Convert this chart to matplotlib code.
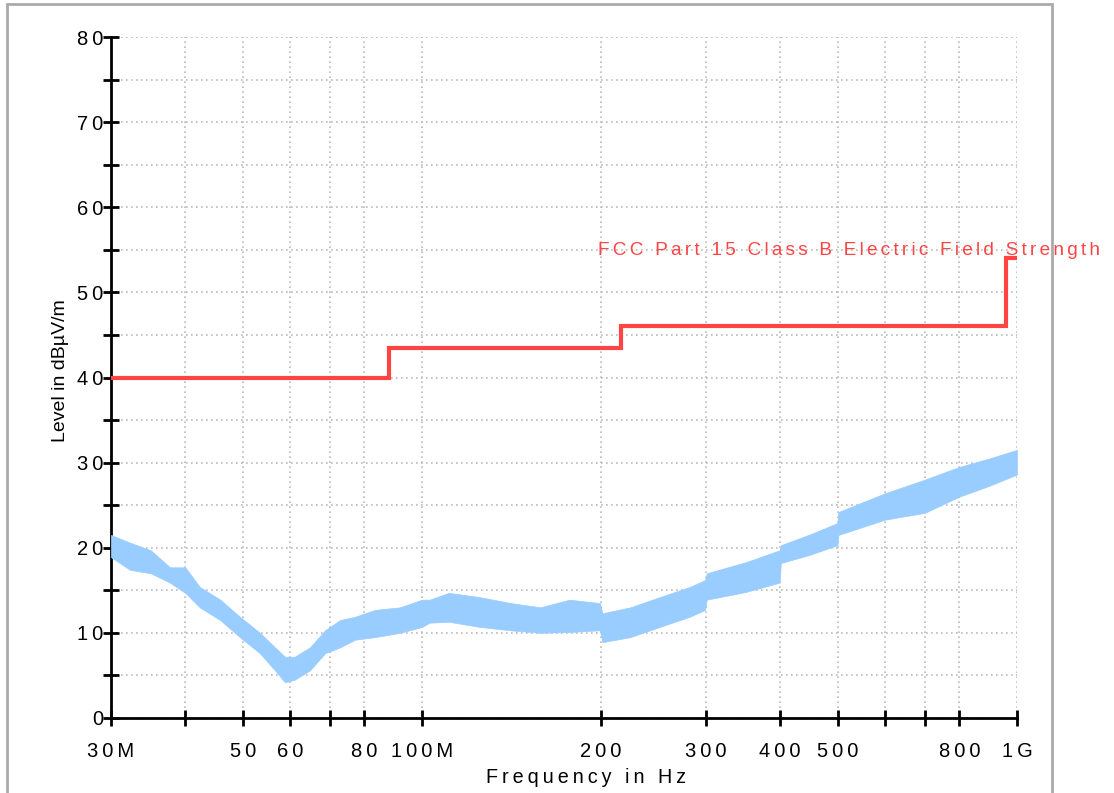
import matplotlib
matplotlib.use("Agg")
import matplotlib.pyplot as plt
from matplotlib.patches import Rectangle
from matplotlib.ticker import FixedLocator

plt.rcParams['font.family'] = ['Liberation Sans', 'DejaVu Sans']

# measured trace (MHz, dBuV/m): lower / upper edge of the noise band
freq = [30, 32.3, 35, 37.7, 40, 42.3, 45.8, 49.4, 53.4, 56.6, 58.8, 61.1, 64.8, 68.7,
        72.8, 77.2, 83.4, 91.8, 100, 103, 111, 125, 141, 158, 177, 199, 201, 224, 251,
        282, 299, 301, 350, 399, 401, 450, 499, 501, 600, 700, 800, 900, 1000]
lower = [18.9, 17.4, 17.0, 15.9, 14.7, 13.0, 11.5, 9.5, 7.6, 5.6, 4.2, 4.5, 5.6, 7.6,
         8.3, 9.2, 9.5, 10.0, 10.7, 11.2, 11.3, 10.7, 10.3, 10.0, 10.1, 10.3, 8.9, 9.5,
         10.7, 11.9, 12.7, 13.9, 14.8, 15.9, 18.2, 19.2, 20.3, 21.5, 23.3, 24.1, 26.0,
         27.3, 28.6]
upper = [21.5, 20.6, 19.7, 17.7, 17.7, 15.4, 13.9, 11.9, 10.0, 8.3, 7.2, 7.2, 8.3, 10.3,
         11.5, 11.9, 12.7, 13.0, 13.9, 13.9, 14.7, 14.2, 13.5, 13.0, 13.9, 13.5, 12.3, 13.0,
         14.2, 15.4, 16.2, 17.0, 18.3, 19.7, 20.3, 21.6, 22.9, 24.2, 26.4, 28.0, 29.5,
         30.5, 31.5]

# FCC Part 15 Class B limit (MHz, dBuV/m)
limit_f = [30, 88, 88, 216, 216, 960, 960, 1000]
limit_v = [40, 40, 43.5, 43.5, 46, 46, 54, 54]

major_x = [30, 40, 50, 60, 70, 80, 100, 200, 300, 400, 500, 600, 700, 800, 1000]
x_labels = {30: "30M", 50: "50", 60: "60", 80: "80", 100: "100M", 200: "200",
            300: "300", 400: "400", 500: "500", 800: "800", 1000: "1G"}


def spaced(s, sep="\u2009"):
    return sep.join(s)


fig = plt.figure(figsize=(11.14, 7.93), dpi=100)
ax = fig.add_axes([0.0996, 0.0946, 0.8133, 0.8587])

ax.fill_between(freq, lower, upper, color="#99ccff", lw=0.5, edgecolor="#99ccff", zorder=3)
ax.plot(limit_f, limit_v, color="#ff4444", lw=3, zorder=4, solid_joinstyle="miter")

ax.set_xscale("log")
ax.set_xlim(30, 1000)
ax.set_ylim(0, 80)

ax.xaxis.set_major_locator(FixedLocator(major_x))
ax.xaxis.set_minor_locator(FixedLocator([]))
ax.set_xticklabels([spaced(x_labels.get(v, "")) for v in major_x])
ax.set_yticks(range(0, 81, 5))
ax.set_yticklabels([spaced(str(v)) if v % 10 == 0 else "" for v in range(0, 81, 5)])

ax.tick_params(axis="both", direction="inout", length=11, width=2, labelsize=14.5,
               colors="black")
ax.tick_params(axis="x", pad=12)
ax.tick_params(axis="y", pad=0)

for s in ["top", "right"]:
    ax.spines[s].set_visible(False)
for s in ["left", "bottom"]:
    ax.spines[s].set_linewidth(2)

ax.grid(True, which="major", color="#bbbbbb", linestyle=(0, (1, 2)), lw=1.2)

ax.set_xlabel(spaced("Frequency in Hz"), fontsize=14.2)
ax.xaxis.set_label_coords(0.524, -0.074)
ax.set_ylabel("Level in dBµV/m", fontsize=14)
ax.yaxis.set_label_coords(-0.046, 0.51)

ax.text(197.6, 54.4, spaced("FCC Part 15 Class B Electric Field Strength", "\u200a\u200a"),
        color="#ff4444", fontsize=13.7, ha="left", va="baseline", clip_on=False, zorder=5)

# window frame around the plot
fig.patches.append(Rectangle((0.006, -0.05), 0.938, 1.045, transform=fig.transFigure,
                             fill=False, edgecolor="#aaaaaa", lw=2, zorder=10))

fig.savefig("out.png", dpi=100)
